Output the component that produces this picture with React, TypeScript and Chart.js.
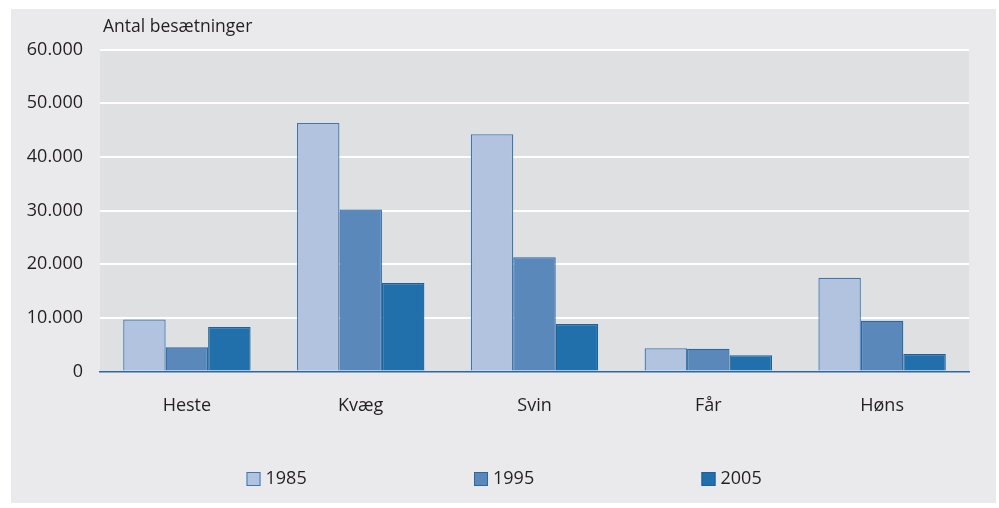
import React, { useEffect, useRef } from "react";
import { Chart, registerables } from "chart.js";

Chart.register(...registerables);

const categories = ["Heste", "Kvæg", "Svin", "Får", "Høns"];
const seriesLabels = ["1985", "1995", "2005"];
const values1985 = [9700, 46300, 44200, 4350, 17450];
const values1995 = [4500, 30200, 21300, 4250, 9450];
const values2005 = [8300, 16500, 8850, 3050, 3250];
const yTicks = [0, 10000, 20000, 30000, 40000, 50000, 60000];
const axisTitle = "Antal besætninger";

const fills = ["#b2c3df", "#5b88bb", "#216fab"];
const borders = ["#3f78b0", "#2a68a3", "#1d619c"];
const FONT = "'Open Sans', sans-serif";
const TEXT = "#231f20";

const fmt = (v: number) =>
  String(v).replace(/\B(?=(\d{3})+(?!\d))/g, ".");

const W = 985;
const H = 494;

const decor = {
  id: "decor",
  beforeDraw(chart: any) {
    const { ctx, chartArea } = chart;
    ctx.save();
    ctx.fillStyle = "#dfe0e2";
    ctx.fillRect(
      chartArea.left,
      chartArea.top,
      chartArea.right - chartArea.left,
      chartArea.bottom - chartArea.top
    );
    ctx.restore();
  },
  afterDraw(chart: any) {
    const { ctx, chartArea } = chart;
    ctx.save();
    ctx.font = `17.5px ${FONT}`;
    ctx.fillStyle = TEXT;
    ctx.textBaseline = "middle";
    ctx.textAlign = "left";
    ctx.fillText(axisTitle, chartArea.left + 3, chartArea.top - 22);

    // legend
    ctx.font = `18px ${FONT}`;
    const cx = chart.width / 2;
    const y = 470;
    chart.data.datasets.forEach((ds: any, i: number) => {
      const x = cx - 257 + i * 227.5;
      ctx.fillStyle = ds.backgroundColor;
      ctx.fillRect(x, y - 7, 14, 14);
      ctx.strokeStyle = ds.borderColor;
      ctx.lineWidth = 1;
      ctx.strokeRect(x + 0.5, y - 6.5, 13, 13);
      ctx.fillStyle = TEXT;
      ctx.fillText(ds.label, x + 19, y);
    });
    ctx.restore();
  },
};

export default function App() {
  const ref = useRef<HTMLCanvasElement | null>(null);
  useEffect(() => {
    if (!ref.current) return;
    const series = [values1985, values1995, values2005];
    const chart = new Chart(ref.current, {
      type: "bar",
      data: {
        labels: categories,
        datasets: series.map((d, i) => ({
          label: seriesLabels[i],
          data: d,
          backgroundColor: fills[i],
          borderColor: borders[i],
          borderWidth: 1.3,
          categoryPercentage: 0.733,
          barPercentage: 1,
        })),
      },
      options: {
        animation: false,
        responsive: false,
        devicePixelRatio: 1,
        layout: { padding: { top: 40.5, right: 27, left: 0, bottom: 0 } },
        plugins: {
          legend: { display: false },
          tooltip: { enabled: false },
          title: { display: false },
        },
        scales: {
          x: {
            grid: { display: false, drawTicks: false },
            border: { display: true, color: "#2a68a3", width: 1.5 },
            ticks: {
              color: TEXT,
              font: { family: FONT, size: 18 },
              padding: 24,
            },
            afterFit: (s: any) => {
              s.height = 131.5;
            },
          },
          y: {
            min: 0,
            max: 60000,
            afterBuildTicks: (s: any) => {
              s.ticks = yTicks.map((v) => ({ value: v }));
            },
            grid: {
              drawTicks: false,
              lineWidth: 2,
              color: (c: any) =>
                c.tick && c.tick.value === 0 ? "rgba(0,0,0,0)" : "#ffffff",
            },
            border: { display: false },
            ticks: {
              color: TEXT,
              font: { family: FONT, size: 18 },
              padding: 17,
              callback: (v: any) => fmt(Number(v)),
            },
            afterFit: (s: any) => {
              s.width = 89;
            },
          },
        },
      },
      plugins: [decor],
    });
    return () => chart.destroy();
  }, []);

  return (
    <div
      style={{
        position: "absolute",
        left: 11,
        top: 9,
        width: W,
        height: H,
        background: "#eaeaec",
      }}
    >
      <canvas ref={ref} width={W} height={H} style={{ display: "block" }} />
    </div>
  );
}
